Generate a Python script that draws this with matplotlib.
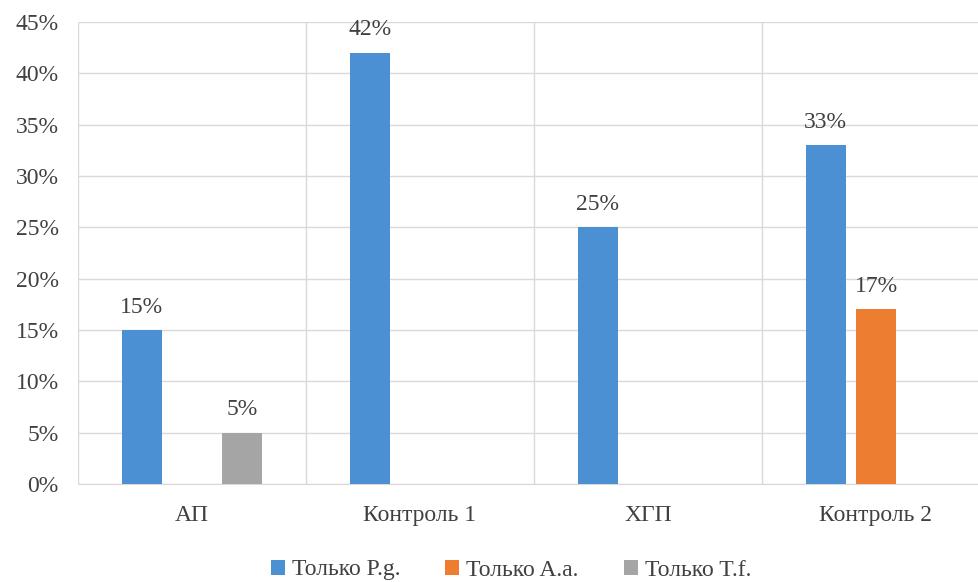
import matplotlib
matplotlib.use('Agg')
import matplotlib.pyplot as plt
import numpy as np

categories = ['АП', 'Контроль 1', 'ХГП', 'Контроль 2']
series_names = ['Только P.g.', 'Только A.a.', 'Только T.f.']
pg = [15, 42, 25, 33]
aa = [0, 0, 0, 17]
tf = [5, 0, 0, 0]
colors = ['#4A90D2', '#ED7D31', '#A5A5A5']

plt.rcParams['font.family'] = ['Liberation Serif', 'DejaVu Serif']

fig = plt.figure(figsize=(9.79, 5.82), dpi=100)
# plot area runs slightly past the right edge, as in the reference
ax = fig.add_axes([78 / 979, 1 - 484 / 582, 912 / 979, 462 / 582])

x = np.arange(len(categories))
width = 0.175
offset = 0.22
for i, (vals, name) in enumerate(zip([pg, aa, tf], series_names)):
    pos = x + (i - 1) * offset
    ax.bar(pos, vals, width, color=colors[i], label=name, zorder=3)
    for p, v in zip(pos, vals):
        if v > 0:
            ax.text(p, v + 1.2, f'{v}%', ha='center', va='bottom',
                    fontsize=17, color='#404040')

ax.set_xlim(-0.5, len(categories) - 0.5)
ax.set_ylim(0, 45)
ax.set_yticks(range(0, 46, 5))
ax.set_yticklabels([f'{v}%' for v in range(0, 46, 5)])
ax.set_xticks(x)
ax.set_xticklabels(categories)
ax.tick_params(axis='both', length=0, labelsize=17, labelcolor='#404040')
ax.tick_params(axis='y', pad=14)
ax.tick_params(axis='x', pad=15)

ax.grid(axis='y', color='#D9D9D9', linewidth=1, zorder=0)
for b in np.arange(0.5, len(categories) - 0.5, 1):
    ax.axvline(b, color='#D9D9D9', linewidth=1, zorder=0)
ax.axvline(-0.5, color='#D9D9D9', linewidth=1, zorder=0)

for s in ['top', 'right', 'left']:
    ax.spines[s].set_visible(False)
ax.spines['bottom'].set_color('#D9D9D9')

fig.legend(loc='center', bbox_to_anchor=(511 / 979, 1 - 570 / 582), ncol=3,
           frameon=False, fontsize=17, handlelength=0.6, handleheight=0.6,
           handletextpad=0.3, columnspacing=1.9, labelcolor='#404040')

fig.savefig('out.png', dpi=100)
